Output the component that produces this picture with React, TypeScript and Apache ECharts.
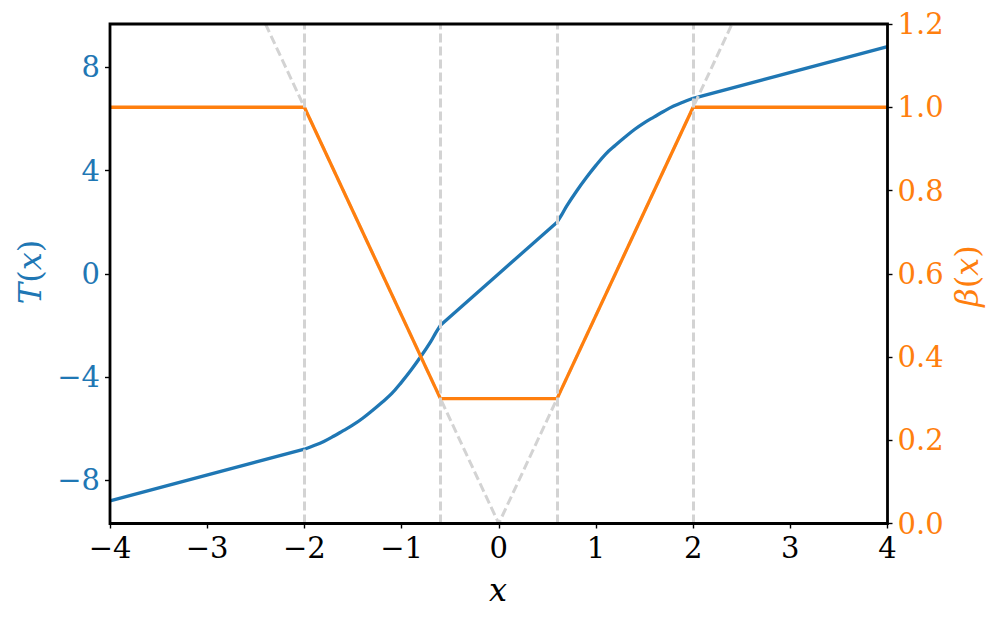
import React, { useEffect, useRef } from "react";
import * as echarts from "echarts";

const tX = [-4, -2, -1.9, -1.8, -1.7, -1.6, -1.5, -1.4, -1.3, -1.2, -1.1, -1.0, -0.9, -0.8, -0.7, -0.65, -0.6, 0, 0.6, 0.65, 0.7, 0.8, 0.9, 1.0, 1.1, 1.2, 1.3, 1.4, 1.5, 1.6, 1.7, 1.8, 1.9, 2.0, 4];
const tY = [-8.8, -6.8, -6.66, -6.5, -6.3, -6.08, -5.86, -5.6, -5.3, -4.98, -4.64, -4.2, -3.72, -3.2, -2.63, -2.3, -2.0, 0, 2.0, 2.3, 2.63, 3.2, 3.72, 4.2, 4.64, 4.98, 5.3, 5.6, 5.86, 6.08, 6.3, 6.5, 6.66, 6.8, 8.8];

const betaX = [-4, -2, -0.6, 0.6, 2, 4];
const betaY = [1, 1, 0.3, 0.3, 1, 1];

const guideX = [-2.4, 0, 2.4];
const guideY = [1.2, 0, 1.2];

const boundaries = [-2, -0.6, 0.6, 2];

const xTicks = [-4, -3, -2, -1, 0, 1, 2, 3, 4];
const tTicks = [-8, -4, 0, 4, 8];

const BLUE = "#1f77b4";
const ORANGE = "#ff7f0e";
const GRAY = "#d3d3d3";
const FONT = "DejaVu Serif";
const TICK_FS = 29;
const NAME_FS = 32;

const fmt = (v: number) => String(v).replace("-", "\u2212");

export default function App() {
  const ref = useRef<HTMLDivElement>(null);
  useEffect(() => {
    if (!ref.current) return;
    const chart = echarts.init(ref.current, null, { renderer: "svg" });
    const dash = [9, 4];
    const tick = { show: true, inside: false, length: 5, lineStyle: { color: "#000", width: 1.4 } };
    const pts = tX.map((x, i) => [x, tY[i]]);
    const inRange = (a: number, b: number) => pts.filter((p) => p[0] >= a && p[0] <= b);
    const blueSeries = (data: number[][], smooth: boolean) => ({
      type: "line",
      yAxisIndex: 0,
      data,
      showSymbol: false,
      symbol: "none",
      smooth: smooth ? 0.4 : false,
      lineStyle: { color: BLUE, width: 3.3 },
      z: 2,
    });
    chart.setOption({
      animation: false,
      backgroundColor: "#fff",
      grid: {
        left: 110,
        right: 108.5,
        top: 24,
        bottom: 94.5,
        show: true,
        borderColor: "#000",
        borderWidth: 2.8,
        backgroundColor: "transparent",
        z: 10,
      },
      xAxis: {
        type: "value",
        min: -4,
        max: 4,
        interval: 1,
        splitLine: { show: false },
        axisLine: { show: false, onZero: false },
        axisTick: { ...tick, customValues: xTicks },
        axisLabel: {
          color: "#000",
          fontFamily: FONT,
          fontSize: TICK_FS,
          margin: 10,
          formatter: (v: number) => fmt(v),
          customValues: xTicks,
        },
      },
      yAxis: [
        {
          type: "value",
          min: -9.68,
          max: 9.68,
          position: "left",
          splitLine: { show: false },
          axisLine: { show: false, onZero: false },
          axisTick: { ...tick, customValues: tTicks },
          axisLabel: {
            color: BLUE,
            fontFamily: FONT,
            fontSize: TICK_FS,
            margin: 10,
            formatter: (v: number) => fmt(v),
            customValues: tTicks,
          },
        },
        {
          type: "value",
          min: 0,
          max: 1.2,
          interval: 0.2,
          position: "right",
          splitLine: { show: false },
          axisLine: { show: false, onZero: false },
          axisTick: tick,
          axisLabel: {
            color: ORANGE,
            fontFamily: FONT,
            fontSize: TICK_FS,
            margin: 10,
            formatter: (v: number) => v.toFixed(1),
          },
        },
      ],
      series: [
        blueSeries(inRange(-4, -2), false),
        blueSeries(inRange(-2, -0.6), true),
        blueSeries(inRange(-0.6, 0.6), false),
        blueSeries(inRange(0.6, 2), true),
        blueSeries(inRange(2, 4), false),
        {
          type: "line",
          name: "guide",
          yAxisIndex: 1,
          data: guideX.map((x, i) => [x, guideY[i]]),
          symbol: "none",
          lineStyle: { color: GRAY, width: 3, type: dash },
          z: 3,
          markLine: {
            silent: true,
            symbol: ["none", "none"],
            label: { show: false },
            lineStyle: { color: GRAY, width: 3, type: dash },
            data: boundaries.map((b) => ({ xAxis: b })),
          },
        },
        {
          type: "line",
          name: "beta",
          yAxisIndex: 1,
          data: betaX.map((x, i) => [x, betaY[i]]),
          symbol: "none",
          lineStyle: { color: ORANGE, width: 3.3 },
          z: 4,
        },
      ],
      graphic: [
        {
          type: "text",
          x: 30,
          y: 272,
          rotation: Math.PI / 2,
          style: {
            text: "{i|T}({i|x})",
            fill: BLUE,
            fontFamily: FONT,
            fontSize: NAME_FS,
            align: "center",
            verticalAlign: "middle",
            rich: { i: { fontStyle: "italic", fontFamily: FONT, fontSize: NAME_FS, fill: BLUE } },
          },
        },
        {
          type: "text",
          x: 967,
          y: 276,
          rotation: Math.PI / 2,
          style: {
            text: "{i|\u03b2}({i|x})",
            fill: ORANGE,
            fontFamily: FONT,
            fontSize: NAME_FS,
            align: "center",
            verticalAlign: "middle",
            rich: { i: { fontStyle: "italic", fontFamily: FONT, fontSize: NAME_FS, fill: ORANGE } },
          },
        },
        {
          type: "text",
          x: 498,
          y: 590,
          style: {
            text: "x",
            fill: "#000",
            fontFamily: FONT,
            fontStyle: "italic",
            fontSize: NAME_FS,
            align: "center",
            verticalAlign: "middle",
          },
        },
      ],
    });
    return () => chart.dispose();
  }, []);
  return <div ref={ref} style={{ position: "absolute", left: 0, top: 0, width: 996, height: 618 }} />;
}
